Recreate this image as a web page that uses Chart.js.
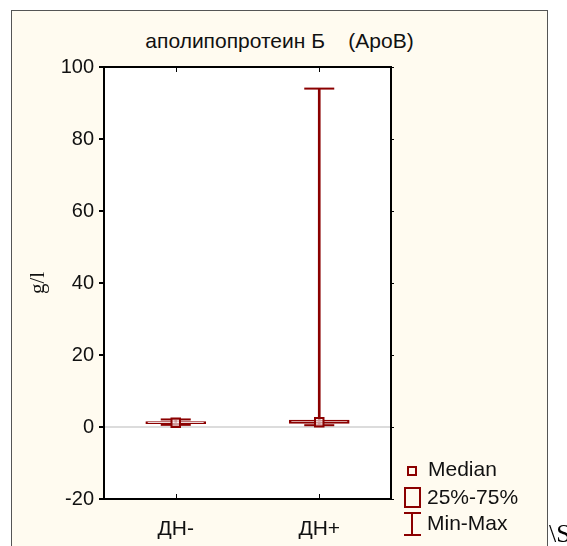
<!DOCTYPE html>
<html lang="ru">
<head>
    <meta charset="UTF-8">
    <title>ApoB</title>
    <script src="https://cdn.jsdelivr.net/npm/chart.js"></script>
    <style>
        * { box-sizing: border-box; margin: 0; padding: 0; }
        body { width: 567px; height: 546px; overflow: hidden; background: #fff; position: relative; font-family: "Liberation Sans", Arial, sans-serif; }
        .panel {
            position: absolute; left: 11px; top: 10px; width: 537px; height: 537px;
            background: #fffbf0; border: 1px solid #555;
        }
        .chart-box { position: absolute; left: 0; top: 0; width: 535px; height: 535px; }
        .title {
            position: absolute; left: 0; width: 535px; top: 18px; text-align: center;
            font-size: 21px; line-height: 24px; white-space: pre; color: #111;
        }
        .legend { position: absolute; left: 392px; top: 446px; font-size: 21px; line-height: 24px; color: #111; }
        .legend div { position: absolute; white-space: nowrap; }
        .ico-med { left: 3px; top: 9px; width: 10px; height: 10px; border: 2px solid #8b0000; }
        .ico-box { left: 0; top: 30px; width: 17px; height: 21px; border: 2px solid #8b0000; }
        .ico-whisk { left: 0; top: 55px; width: 17px; height: 24px; }
        .ico-whisk span { position: absolute; background: #8b0000; }
        .stray { position: absolute; left: 549px; top: 519px; font-family: "Liberation Serif", serif; font-size: 26px; line-height: 30px; }
    </style>
</head>
<body>
    <div class="panel">
        <div class="title">аполипопротеин Б    (ApoB)</div>
        <div class="chart-box"><canvas id="boxChart"></canvas></div>
        <div class="legend">
            <div class="ico-med"></div>
            <div style="left:24px; top:0;">Median</div>
            <div class="ico-box"></div>
            <div style="left:23px; top:28px;">25%-75%</div>
            <div class="ico-whisk">
                <span style="left:0; top:0; width:17px; height:2px;"></span>
                <span style="left:7px; top:0; width:2px; height:24px;"></span>
                <span style="left:0; top:22px; width:17px; height:2px;"></span>
            </div>
            <div style="left:23px; top:54px;">Min-Max</div>
        </div>
    </div>
    <div class="stray">\S</div>

    <script>
        const groups = ['ДН-', 'ДН+'];
        const minVals = [0.6, 0.5];
        const q1Vals = [0.95, 1.0];
        const medianVals = [1.2, 1.3];
        const q3Vals = [1.5, 1.9];
        const maxVals = [2.1, 94];
        const yTicks = [-20, 0, 20, 40, 60, 80, 100];

        const red = '#8b0000';

        // white plot area + frame with inner category ticks
        const framePlugin = {
            id: 'frame',
            beforeDraw(chart) {
                const a = chart.chartArea, c = chart.ctx;
                c.save();
                c.fillStyle = '#fff';
                c.fillRect(a.left, a.top, a.right - a.left, a.bottom - a.top);
                c.restore();
            },
            afterDraw(chart) {
                const a = chart.chartArea, c = chart.ctx, xs = chart.scales.x, ys = chart.scales.y;
                c.save();
                c.strokeStyle = '#000';
                c.lineWidth = 2;
                c.strokeRect(a.left, a.top, a.right - a.left, a.bottom - a.top);
                c.lineWidth = 1;
                c.beginPath();
                groups.forEach((g, i) => {
                    const x = Math.round(xs.getPixelForValue(i)) + 0.5;
                    c.moveTo(x, a.top); c.lineTo(x, a.top + 5);
                    c.moveTo(x, a.bottom); c.lineTo(x, a.bottom - 5);
                });
                yTicks.forEach(v => {
                    const y = Math.round(ys.getPixelForValue(v)) + 0.5;
                    c.moveTo(a.right, y); c.lineTo(a.right + 3, y);
                });
                c.stroke();
                c.restore();
            }
        };

        new Chart(document.getElementById('boxChart'), {
            type: 'bar',
            data: {
                labels: groups,
                datasets: [{
                    type: 'line',
                    label: 'Median',
                    data: medianVals,
                    showLine: false,
                    pointStyle: 'rect',
                    pointRadius: 6,
                    pointBorderWidth: 2,
                    pointBorderColor: red,
                    pointBackgroundColor: 'rgba(255,255,255,0.6)',
                    order: 0
                }, {
                    type: 'line',
                    label: 'Max',
                    data: maxVals,
                    showLine: false,
                    pointStyle: 'line',
                    pointRadius: 15,
                    pointBorderWidth: 2,
                    pointBorderColor: red,
                    order: 1
                }, {
                    type: 'line',
                    label: 'Min',
                    data: minVals,
                    showLine: false,
                    pointStyle: 'line',
                    pointRadius: 15,
                    pointBorderWidth: 2,
                    pointBorderColor: red,
                    order: 1
                }, {
                    label: '25%-75%',
                    data: groups.map((g, i) => [q1Vals[i], q3Vals[i]]),
                    barThickness: 60,
                    backgroundColor: 'rgba(255,255,255,0.5)',
                    borderColor: red,
                    borderWidth: 2,
                    borderSkipped: false,
                    grouped: false,
                    order: 2
                }, {
                    label: 'Min-Max',
                    data: groups.map((g, i) => [minVals[i], maxVals[i]]),
                    barThickness: 2,
                    backgroundColor: red,
                    borderWidth: 0,
                    grouped: false,
                    order: 3
                }]
            },
            options: {
                responsive: true,
                maintainAspectRatio: false,
                animation: false,
                events: [],
                layout: { padding: { top: 56, right: 156, left: 0, bottom: 0 } },
                plugins: {
                    legend: { display: false },
                    tooltip: { enabled: false }
                },
                scales: {
                    x: {
                        offset: true,
                        grid: { display: false },
                        border: { display: false },
                        ticks: { color: '#111', font: { size: 21, family: 'Liberation Sans' }, padding: 10 },
                        afterFit: s => { s.height = 47; }
                    },
                    y: {
                        min: -20,
                        max: 100,
                        afterBuildTicks: s => { s.ticks = yTicks.map(v => ({ value: v })); },
                        grid: {
                            color: c => (c.tick && c.tick.value === 0) ? '#dcdcdc' : 'rgba(0,0,0,0)',
                            lineWidth: 2,
                            tickColor: '#000',
                            tickLength: 5
                        },
                        border: { display: false },
                        ticks: { color: '#111', font: { size: 20, family: 'Liberation Sans' }, padding: 5 },
                        title: {
                            display: true,
                            text: 'g/l',
                            color: '#111',
                            font: { size: 21, family: 'Liberation Serif' },
                            padding: { top: 14, bottom: 0 }
                        },
                        afterFit: s => { s.width = 92; }
                    }
                }
            },
            plugins: [framePlugin]
        });
    </script>
</body>
</html>
